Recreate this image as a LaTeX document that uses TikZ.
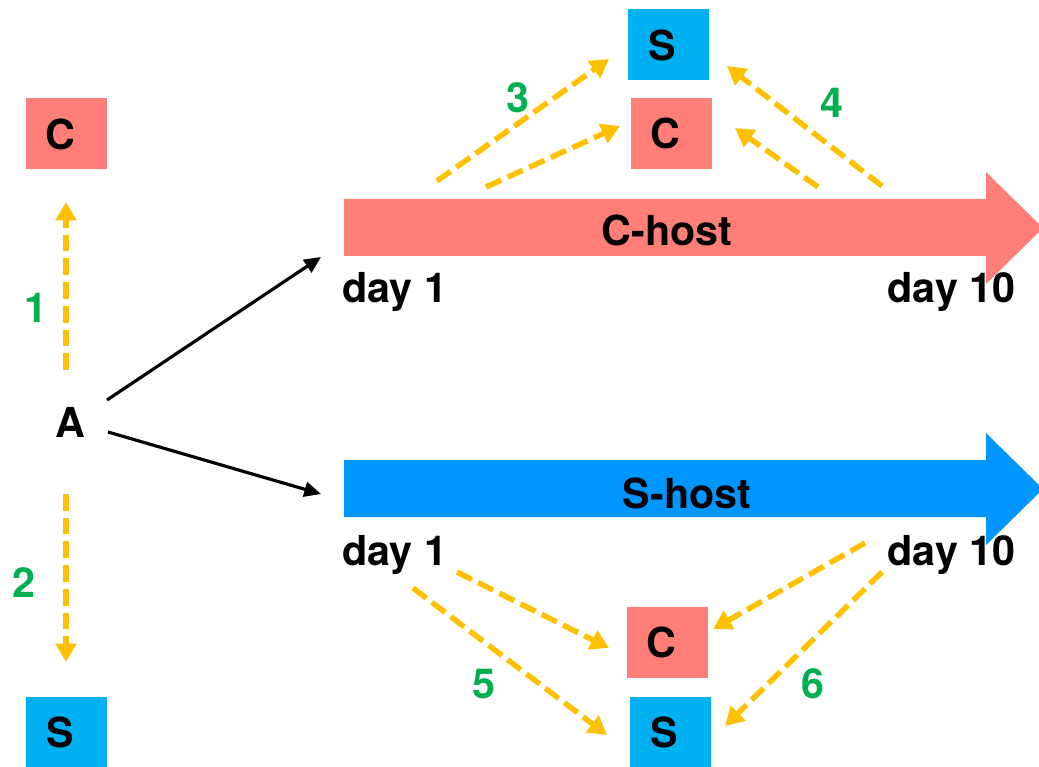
\documentclass[tikz,border=0pt]{standalone}
\usepackage{fontspec}
\setmainfont{TeX Gyre Heros}
\usetikzlibrary{arrows.meta}
\definecolor{salmon}{HTML}{FF7F78}
\definecolor{cyanbox}{HTML}{00B0F0}
\definecolor{hostblue}{HTML}{0096FF}
\definecolor{orng}{HTML}{FFC000}
\definecolor{grn}{HTML}{00B050}
\begin{document}
\begin{tikzpicture}[x=0.02cm,y=-0.02cm,
  txt/.style={font=\fontsize{23.5}{28}\selectfont\bfseries, inner sep=0pt},
  cbox/.style={fill=salmon, minimum width=81*0.02cm, minimum height=71*0.02cm, inner sep=0pt, font=\fontsize{23.5}{28}\selectfont\bfseries},
  sbox/.style={fill=cyanbox, minimum width=81*0.02cm, minimum height=71*0.02cm, inner sep=0pt, font=\fontsize{23.5}{28}\selectfont\bfseries},
  num/.style={txt, text=grn},
  darr/.style={draw=orng, line width=3.1pt, dash pattern=on 9.5pt off 4pt, -{Triangle[length=10.5pt,width=11.5pt]}},
  barr/.style={draw=black, line width=1.8pt, -{Triangle[length=9.5pt,width=8.5pt]}}]
\useasboundingbox (0,0) rectangle (1039,767);

% host arrows
\fill[salmon] (344,199) -- (986,199) -- (986,172) -- (1043,228) -- (986,284) -- (986,256) -- (344,256) -- cycle;
\fill[hostblue] (344,460) -- (986,460) -- (986,433) -- (1043,489) -- (986,545) -- (986,517) -- (344,517) -- cycle;
\node[txt] (chost) at (667,230) {C-host};
\node[txt] (shost) at (687,493) {S-host};
\node[txt, anchor=base west] (d1a) at (342,302) {day 1};
\node[txt, anchor=base east] (d10a) at (1016,302) {day 10};
\node[txt, anchor=base west] (d1b) at (342,565) {day 1};
\node[txt, anchor=base east] (d10b) at (1016,565) {day 10};

% boxes
\node[cbox] (cl) at (66.5,134) {C\kern7pt};
\node[sbox] (sl) at (66.5,732) {S\kern7pt};
\node[sbox] (st) at (668.5,45) {S\kern7pt};
\node[cbox] (ct) at (671.5,133.5) {C\kern7pt};
\node[cbox] (cb) at (667.5,642) {C\kern7pt};
\node[sbox] (sb) at (670.5,732) {S\kern7pt};

\node[txt, anchor=base] (A) at (70,437) {A};

% coordinates
\coordinate (a1s) at (66,370); \coordinate (a1e) at (66,202);
\coordinate (a2s) at (66,494); \coordinate (a2e) at (66,662);
\coordinate (b1s) at (107,400); \coordinate (b1e) at (321,257);
\coordinate (b2s) at (108,432); \coordinate (b2e) at (321,494);
\coordinate (t3as) at (437,181); \coordinate (t3ae) at (609,59);
\coordinate (t3bs) at (486,187); \coordinate (t3be) at (620,126);
\coordinate (t4as) at (882,186); \coordinate (t4ae) at (727,66);
\coordinate (t4bs) at (818,187); \coordinate (t4be) at (735,128);
\coordinate (t5as) at (457,572); \coordinate (t5ae) at (609,648);
\coordinate (t5bs) at (413,588); \coordinate (t5be) at (607,735);
\coordinate (t6as) at (865,543); \coordinate (t6ae) at (713,629);
\coordinate (t6bs) at (882,572); \coordinate (t6be) at (725,726);

\draw[darr] (a1s) -- (a1e);
\draw[darr] (a2s) -- (a2e);
\draw[barr] (b1s) -- (b1e);
\draw[barr] (b2s) -- (b2e);
\draw[darr] (t3as) -- (t3ae);
\draw[darr] (t3bs) -- (t3be);
\draw[darr] (t4as) -- (t4ae);
\draw[darr] (t4bs) -- (t4be);
\draw[darr] (t5as) -- (t5ae);
\draw[darr] (t5bs) -- (t5be);
\draw[darr] (t6as) -- (t6ae);
\draw[darr] (t6bs) -- (t6be);

% numbers
\node[num] (n1) at (36,308) {1};
\node[num] (n2) at (24,583) {2};
\node[num] (n3) at (518,98) {3};
\node[num] (n4) at (832,103) {4};
\node[num] (n5) at (484,684) {5};
\node[num] (n6) at (813,684) {6};
\end{tikzpicture}
\end{document}
